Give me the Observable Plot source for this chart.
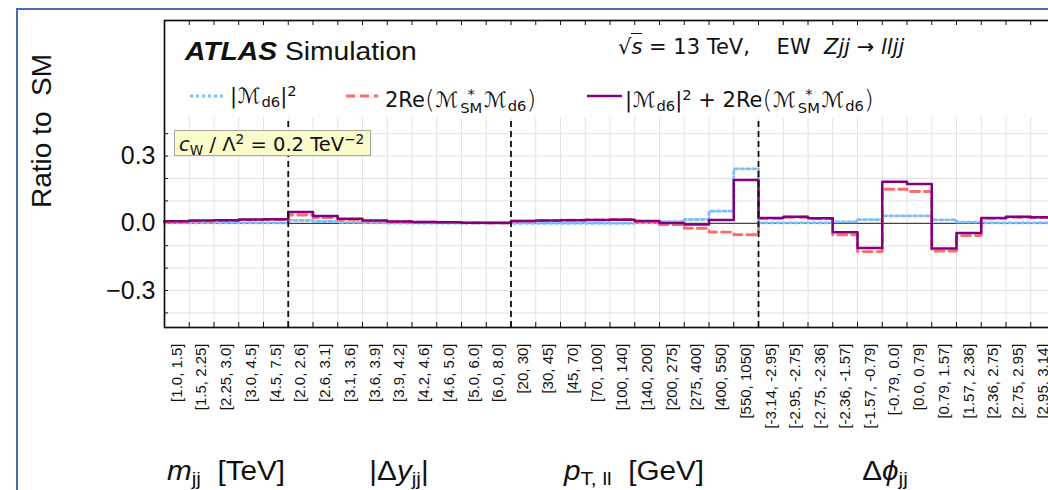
<!DOCTYPE html>
<html><head><meta charset="utf-8">
<script src="https://cdn.jsdelivr.net/npm/d3@7"></script>
<script src="https://cdn.jsdelivr.net/npm/@observablehq/plot@0.6"></script>
<style>
html,body{margin:0;padding:0;background:#fff;overflow:hidden}
#wrap{position:relative;width:1048px;height:490px;overflow:hidden;background:#fff}
#chart{position:absolute;left:0;top:0}
.abs{position:absolute;white-space:nowrap;line-height:1}
.dj{font-family:"DejaVu Sans",sans-serif;color:#111}
.lib{font-family:"Liberation Sans",Arial,sans-serif;color:#111}
.sb{font-size:0.7em;position:relative;top:0.28em}
.sp{font-size:0.7em;position:relative;top:-0.5em}
.stack{display:inline-flex;flex-direction:column;font-size:0.7em;line-height:0.95;vertical-align:0.55em;text-align:center;margin:0 1px}
.M{padding:0 1px}
.par{font-size:1.2em;font-weight:200;position:relative;top:0.04em}
#frame{position:absolute;left:16px;top:8px;width:1200px;height:700px;border:2px solid #4a6cb3;box-sizing:border-box;pointer-events:none}
</style></head>
<body><div id="wrap"><div id="chart"></div></div>
<script>
// ---- data ----
const groupTitles = [
  '<i>m</i><span class="sb">jj</span>&nbsp; [TeV]',
  '|Δ<i>y</i><span class="sb">jj</span>|',
  '<i>p</i><span class="sb">T, ll</span>&nbsp; [GeV]',
  'Δ<i>ϕ</i><span class="sb">jj</span>'
];
const groupSizes = [5, 9, 10, 12];
const binLabels = [
  "[1.0, 1.5]","[1.5, 2.25]","[2.25, 3.0]","[3.0, 4.5]","[4.5, 7.5]",
  "[2.0, 2.6]","[2.6, 3.1]","[3.1, 3.6]","[3.6, 3.9]","[3.9, 4.2]","[4.2, 4.6]","[4.6, 5.0]","[5.0, 6.0]","[6.0, 8.0]",
  "[20, 30]","[30, 45]","[45, 70]","[70, 100]","[100, 140]","[140, 200]","[200, 275]","[275, 400]","[400, 550]","[550, 1050]",
  "[-3.14, -2.95]","[-2.95, -2.75]","[-2.75, -2.36]","[-2.36, -1.57]","[-1.57, -0.79]","[-0.79, 0.0]","[0.0, 0.79]","[0.79, 1.57]","[1.57, 2.36]","[2.36, 2.75]","[2.75, 2.95]","[2.95, 3.14]"
];
// |M_d6|^2
const quadratic = [
  0.002, 0.002, 0.002, 0.002, 0.002,
  0.013, 0.008, 0.004, 0.002, 0.001, 0.001, 0.001, 0.001, 0.001,
  0.000, 0.000, 0.000, 0.000, 0.000, 0.002, 0.007, 0.017, 0.054, 0.243,
  0.002, 0.002, 0.002, 0.006, 0.016, 0.033, 0.033, 0.015, 0.005, 0.002, 0.002, 0.002
];
// 2Re(M*_SM M_d6)
const interference = [
  0.007, 0.010, 0.012, 0.015, 0.016,
  0.037, 0.025, 0.016, 0.010, 0.007, 0.005, 0.004, 0.002, 0.001,
  0.010, 0.012, 0.014, 0.015, 0.017, 0.008, -0.006, -0.022, -0.039, -0.051,
  0.022, 0.027, 0.021, -0.052, -0.126, 0.152, 0.142, -0.124, -0.055, 0.022, 0.027, 0.025
];
// sum
const total = [
  0.009, 0.012, 0.014, 0.017, 0.018,
  0.050, 0.033, 0.020, 0.012, 0.008, 0.006, 0.005, 0.003, 0.002,
  0.010, 0.012, 0.014, 0.015, 0.016, 0.010, 0.001, -0.005, 0.015, 0.193,
  0.024, 0.029, 0.023, -0.040, -0.110, 0.185, 0.175, -0.112, -0.043, 0.024, 0.029, 0.027
];
const yTicks = [-0.3, 0, 0.3];
const yMinor = [-0.4, -0.3, -0.2, -0.1, 0.1, 0.2, 0.3, 0.4];

// ---- layout ----
const W = 1060, H = 490, mL = 164, mT = 20, mB = 163, mR = 5;
const plotH = H - mT - mB, plotW = W - mL - mR;
const nBins = binLabels.length;
const edges = d3.range(1, nBins);
const centers = d3.range(nBins).map(i => i + 0.5);
const cum = Array.from(d3.cumsum(groupSizes));
const bounds = cum.slice(0, -1);
const yLo = -0.465, yHi = 0.905, gridTop = 0.47;
const step = arr => [...arr.map((v, i) => ({x: i, y: v})), {x: arr.length, y: arr[arr.length - 1]}];
const blue = "#80bcf6", red = "#ff6a6a", purple = "#820082";
const blueDash = "3,3", redDash = "9,5";

const chart = Plot.plot({
  width: W, height: H, marginLeft: mL, marginTop: mT, marginBottom: mB, marginRight: mR,
  style: {fontFamily: "Liberation Sans, Arial, sans-serif", maxWidth: "none", background: "transparent", color: "#111"},
  x: {type: "linear", domain: [0, nBins]},
  y: {domain: [yLo, yHi]},
  marks: [
    Plot.ruleY(yMinor, {y: d => d, stroke: "#e2e2e2", strokeWidth: 1}),
    Plot.ruleX(edges, {x: d => d, y1: yLo, y2: gridTop, stroke: "#e2e2e2", strokeWidth: 1}),
    Plot.ruleY([0], {stroke: "#444", strokeWidth: 1.2}),
    Plot.line(step(quadratic), {x: "x", y: "y", curve: "step-after", stroke: blue, strokeWidth: 2.8, strokeDasharray: blueDash}),
    Plot.line(step(interference), {x: "x", y: "y", curve: "step-after", stroke: red, strokeWidth: 2.8, strokeDasharray: redDash}),
    Plot.line(step(total), {x: "x", y: "y", curve: "step-after", stroke: purple, strokeWidth: 2.5}),
    Plot.ruleX(bounds, {x: d => d, y1: yLo, y2: gridTop, stroke: "#111", strokeWidth: 1.8, strokeDasharray: "6,4"}),
    Plot.frame({stroke: "#111", strokeWidth: 1.7}),
    Plot.ruleX(edges, {x: d => d, insetTop: plotH - 5, stroke: "#111"}),
    Plot.ruleX(edges, {x: d => d, insetBottom: plotH - 5, stroke: "#111"}),
    Plot.ruleY(yMinor, {y: d => d, insetRight: plotW - 4, stroke: "#111"}),
    Plot.axisX({ticks: centers, tickFormat: d => binLabels[Math.floor(d)], tickSize: 0, tickPadding: 16,
      rotate: -90, textAnchor: "end", lineAnchor: "middle", fontSize: 15, label: null}),
    Plot.axisY({ticks: yTicks, tickFormat: d3.format(".1f"), tickSize: 0, tickPadding: 9, fontSize: 25, label: null})
  ]
});
document.getElementById("chart").appendChild(chart);

// ---- overlays (text) ----
const wrap = document.getElementById("wrap");
function add(html, cls, css) {
  const d = document.createElement("div");
  d.className = "abs " + cls;
  d.innerHTML = html;
  Object.assign(d.style, css);
  wrap.appendChild(d);
  return d;
}
function sample(x1, x2, y, stroke, width, dash) {
  const s = document.createElementNS("http://www.w3.org/2000/svg", "svg");
  s.setAttribute("width", x2 - x1); s.setAttribute("height", 10);
  s.style.position = "absolute"; s.style.left = x1 + "px"; s.style.top = (y - 5) + "px";
  s.innerHTML = `<line x1="0" x2="${x2 - x1}" y1="5" y2="5" stroke="${stroke}" stroke-width="${width}" ${dash ? `stroke-dasharray="${dash}"` : ""}/>`;
  wrap.appendChild(s);
}
const xs = chart.scale("x");
const M = '<span class="M">ℳ</span>';
const interfHtml = `2Re<span class="par">(</span>${M}<span class="stack"><span>*</span><span>SM</span></span>${M}<span class="sb">d6</span><span class="par">)</span>`;
const quadHtml = `|${M}<span class="sb">d6</span>|<span class="sp">2</span>`;

// header
add('<b><i>ATLAS</i></b> Simulation', "lib", {left: "185px", top: "39px", fontSize: "25px", transform: "scaleX(1.13)", transformOrigin: "left"});
add('√<span style="border-top:1.5px solid #111;padding-top:1px"><i>s</i></span> = 13 TeV, &nbsp;&nbsp; EW &nbsp;<i>Zjj</i> → <i>lljj</i>', "dj", {left: "618px", top: "37px", fontSize: "21px"});

// legend
sample(190, 223, 96, blue, 2.8, blueDash);
add(quadHtml, "dj", {left: "230px", top: "86px", fontSize: "21px"});
sample(346, 378, 96, red, 2.8, redDash);
add(interfHtml, "dj", {left: "385px", top: "86px", fontSize: "21px"});
sample(587, 622, 96, purple, 2.5, null);
add(quadHtml + ' + ' + interfHtml, "dj", {left: "625px", top: "86px", fontSize: "21px"});

// coupling box
add('<i>c</i><span class="sb">W</span> / Λ<span class="sp">2</span> = 0.2 TeV<span class="sp">−2</span>', "dj",
  {left: "174px", top: "130px", width: "197px", height: "26px", fontSize: "19.5px", background: "#fafacb", border: "1px solid #a8a8a0", paddingLeft: "4px", paddingTop: "4px", boxSizing: "border-box"});

// y label
add('Ratio to&nbsp; SM', "lib", {left: "42px", top: "131px", fontSize: "28px", transform: "translate(-50%,-50%) rotate(-90deg)"});

// group titles
const titleShift = [0, 0, 0, -22];
groupTitles.forEach((t, i) => {
  const c = (cum[i] - groupSizes[i] / 2);
  add(t, "lib", {left: (xs.apply(c) + titleShift[i]) + "px", top: "458px", fontSize: "27px", transform: "translateX(-50%) scaleX(1.1)"});
});

const fr = document.createElement("div"); fr.id = "frame"; wrap.appendChild(fr);
</script>
</body></html>
